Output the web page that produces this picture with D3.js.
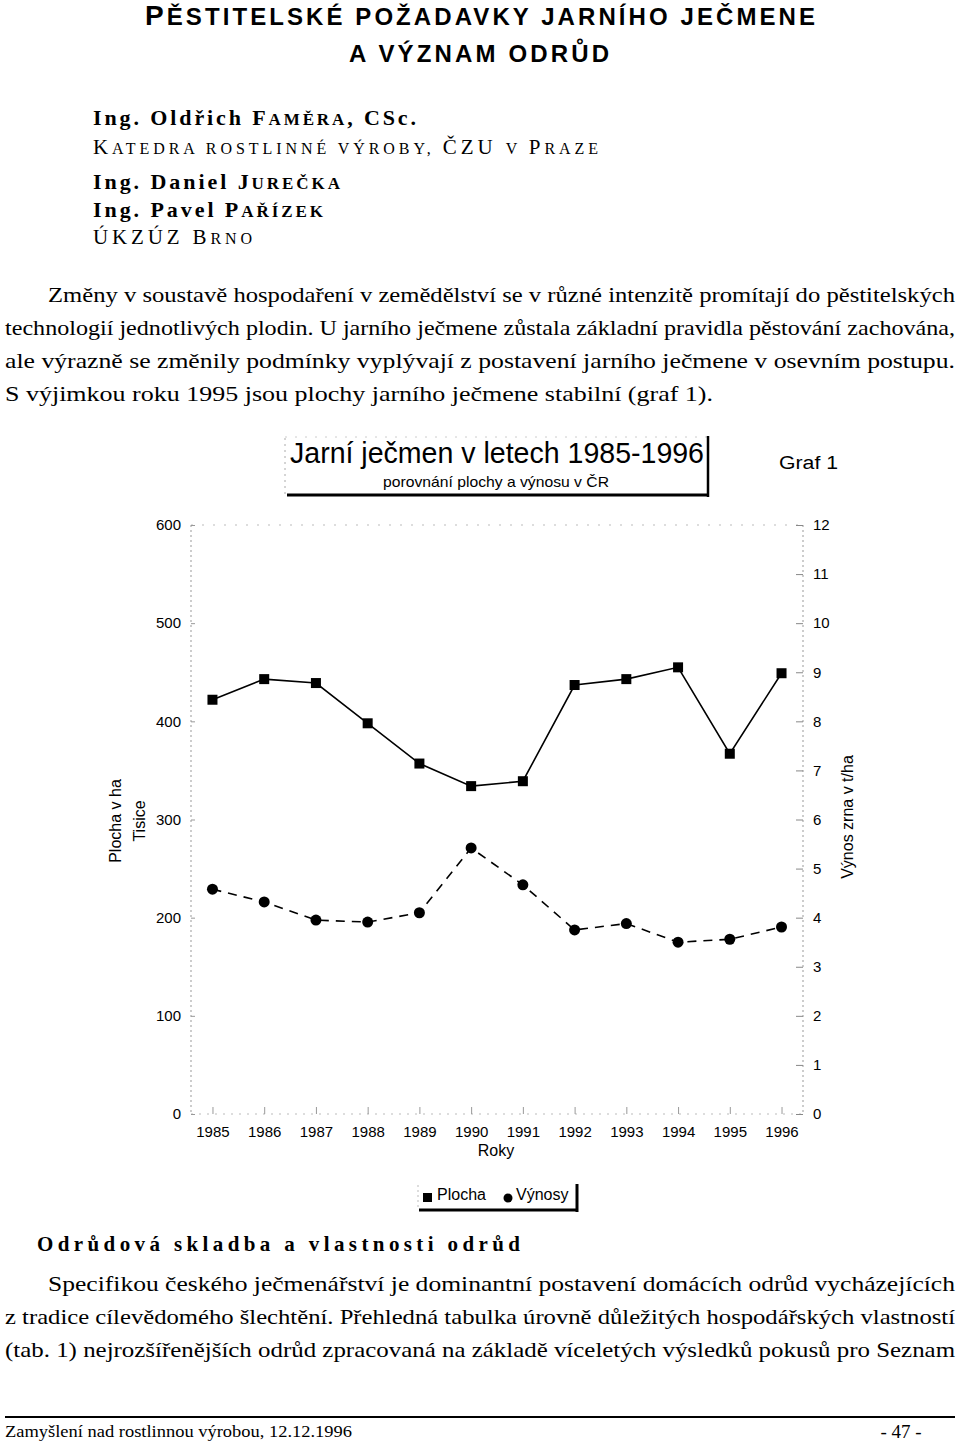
<!DOCTYPE html>
<html><head><meta charset="utf-8">
<script src="https://d3js.org/d3.v7.min.js"></script>
<style>body{margin:0;background:#fff}svg{display:block}</style>
</head><body>
<script>
const years = [1985,1986,1987,1988,1989,1990,1991,1992,1993,1994,1995,1996];
const plocha = [422,443,439,398,357,334,339,437,443,455,367,449];
const vynosy = [4.58,4.32,3.95,3.91,4.10,5.42,4.67,3.75,3.88,3.50,3.56,3.81];
const leftTicks = [0,100,200,300,400,500,600];
const rightTicks = [0,1,2,3,4,5,6,7,8,9,10,11,12];

const SERIF = "'Liberation Serif','Times New Roman',serif";
const SANS = "'Liberation Sans',Arial,sans-serif";

const svg = d3.select("body").append("svg").attr("width",960).attr("height",1442);

function seg(x,y,parts,opts){
  const t = svg.append("text").attr("x",x).attr("y",y)
    .attr("font-family",opts.family).attr("font-weight",opts.weight||"normal").attr("fill","#000");
  if(opts.len){t.attr("textLength",opts.len).attr("lengthAdjust",opts.adj||"spacingAndGlyphs");}
  if(opts.anchor) t.attr("text-anchor",opts.anchor);
  parts.forEach(p=>t.append("tspan").attr("font-size",p[1]).text(p[0]));
  return t;
}

// Header
seg(145,25,[["P",28],["ĚSTITELSKÉ POŽADAVKY JARNÍHO JEČMENE",24]],{family:SANS,weight:"bold",len:670,adj:"spacing"});
seg(349,62,[["A VÝZNAM ODRŮD",24]],{family:SANS,weight:"bold",len:260,adj:"spacing"});

// Authors
seg(93,125,[["Ing. Oldřich F",22],["AMĚRA",17],[", CSc.",22]],{family:SERIF,weight:"bold",len:323,adj:"spacing"});
seg(93,154,[["K",21],["ATEDRA ROSTLINNÉ VÝROBY, ",16],["ČZU ",21],["V ",16],["P",21],["RAZE",16]],{family:SERIF,len:505,adj:"spacing"});
seg(93,189,[["Ing. Daniel J",22],["UREČKA",17]],{family:SERIF,weight:"bold",len:247,adj:"spacing"});
seg(93,217,[["Ing. Pavel P",22],["AŘÍZEK",17]],{family:SERIF,weight:"bold",len:230,adj:"spacing"});
seg(93,244,[["ÚKZÚZ B",21],["RNO",16]],{family:SERIF,len:159,adj:"spacing"});

// Paragraph 1
const p1 = [
 ["Změny v soustavě hospodaření v zemědělství se v různé intenzitě promítají do pěstitelských",48,955,302],
 ["technologií jednotlivých plodin. U jarního ječmene zůstala základní pravidla pěstování zachována,",5,955,335],
 ["ale výrazně se změnily podmínky vyplývají z postavení jarního ječmene v osevním postupu.",5,955,368],
 ["S výjimkou roku 1995 jsou plochy jarního ječmene stabilní (graf 1).",5,713,401]
];
p1.forEach(l=>seg(l[1],l[3],[[l[0],21]],{family:SERIF,len:l[2]-l[1]}));

// Chart title box
svg.append("line").attr("x1",285).attr("x2",285).attr("y1",438).attr("y2",495).attr("stroke","#aaa").attr("stroke-dasharray","2,4");
svg.append("line").attr("x1",285).attr("x2",708).attr("y1",437).attr("y2",437).attr("stroke","#ccc").attr("stroke-dasharray","2,8");
svg.append("line").attr("x1",708).attr("x2",708).attr("y1",436).attr("y2",497).attr("stroke","#000").attr("stroke-width",2.5);
svg.append("line").attr("x1",287).attr("x2",709).attr("y1",495).attr("y2",495).attr("stroke","#000").attr("stroke-width",3);
seg(290,463,[["Jarní ječmen v letech 1985-1996",29]],{family:SANS,len:414});
seg(383,487,[["porovnání plochy a výnosu v ČR",15]],{family:SANS,len:226});
seg(779,469,[["Graf 1",18]],{family:SANS,len:59});

// Chart
const L=191, R=803, T=525, B=1114;
const x = d3.scalePoint().domain(years).range([L,R]).padding(0.415);
const yL = d3.scaleLinear().domain([0,600]).range([B,T]);
const yR = d3.scaleLinear().domain([0,12]).range([B,T]);

const frame = svg.append("g").attr("stroke","#999").attr("stroke-width",1).attr("stroke-dasharray","2,3").attr("fill","none");
frame.append("line").attr("x1",L).attr("x2",L).attr("y1",T).attr("y2",B);
frame.append("line").attr("x1",R).attr("x2",R).attr("y1",T).attr("y2",B);
frame.append("line").attr("x1",L).attr("x2",R).attr("y1",T).attr("y2",T).attr("stroke","#bbb").attr("stroke-dasharray","2,9");
frame.append("line").attr("x1",L).attr("x2",R).attr("y1",B).attr("y2",B).attr("stroke","#bbb").attr("stroke-dasharray","2,6");

const axL = d3.axisLeft(yL).tickValues(leftTicks).tickSize(-4).tickPadding(10);
const gL = svg.append("g").attr("transform",`translate(${L},0)`).call(axL);
gL.select(".domain").remove();
gL.selectAll("line").attr("stroke","#999");
gL.selectAll("text").attr("font-family",SANS).attr("font-size",15).attr("fill","#000");

const axR = d3.axisRight(yR).tickValues(rightTicks).tickSize(-7).tickPadding(10);
const gR = svg.append("g").attr("transform",`translate(${R},0)`).call(axR);
gR.select(".domain").remove();
gR.selectAll("line").attr("stroke","#888");
gR.selectAll("text").attr("font-family",SANS).attr("font-size",15).attr("fill","#000");

const axB = d3.axisBottom(x).tickSize(-7).tickPadding(12);
const gB = svg.append("g").attr("transform",`translate(0,${B})`).call(axB);
gB.select(".domain").remove();
gB.selectAll("line").attr("stroke","#999");
gB.selectAll("text").attr("font-family",SANS).attr("font-size",15).attr("fill","#000");

seg(496,1156,[["Roky",16]],{family:SANS,anchor:"middle"});
svg.append("text").attr("transform","translate(121,821) rotate(-90)").attr("text-anchor","middle")
  .attr("font-family",SANS).attr("font-size",16).text("Plocha v ha");
svg.append("text").attr("transform","translate(145,821) rotate(-90)").attr("text-anchor","middle")
  .attr("font-family",SANS).attr("font-size",16).text("Tisice");
svg.append("text").attr("transform","translate(853,817) rotate(-90)").attr("text-anchor","middle")
  .attr("font-family",SANS).attr("font-size",16).text("Výnos zrna v t/ha");

const lineP = d3.line().x((d,i)=>x(years[i])).y(d=>yL(d));
const lineV = d3.line().x((d,i)=>x(years[i])).y(d=>yR(d));
svg.append("path").datum(plocha).attr("d",lineP).attr("fill","none").attr("stroke","#000").attr("stroke-width",1.6);
svg.append("path").datum(vynosy).attr("d",lineV).attr("fill","none").attr("stroke","#000").attr("stroke-width",1.6).attr("stroke-dasharray","9,7");
svg.append("g").selectAll("rect").data(plocha).join("rect")
  .attr("x",(d,i)=>x(years[i])-5).attr("y",d=>yL(d)-5).attr("width",10).attr("height",10).attr("fill","#000");
svg.append("g").selectAll("circle").data(vynosy).join("circle")
  .attr("cx",(d,i)=>x(years[i])).attr("cy",d=>yR(d)).attr("r",5.5).attr("fill","#000");

// Legend
svg.append("line").attr("x1",418).attr("x2",418).attr("y1",1185).attr("y2",1209).attr("stroke","#bbb").attr("stroke-dasharray","2,3");
svg.append("line").attr("x1",577).attr("x2",577).attr("y1",1184).attr("y2",1212).attr("stroke","#000").attr("stroke-width",3);
svg.append("line").attr("x1",419).attr("x2",578).attr("y1",1210).attr("y2",1210).attr("stroke","#000").attr("stroke-width",3);
svg.append("rect").attr("x",423).attr("y",1193).attr("width",9).attr("height",9).attr("fill","#000");
seg(437,1200,[["Plocha",16]],{family:SANS});
svg.append("circle").attr("cx",508).attr("cy",1198).attr("r",4.5).attr("fill","#000");
seg(516,1200,[["Výnosy",16]],{family:SANS});

// Heading
seg(37,1251,[["Odrůdová skladba a vlastnosti odrůd",21]],{family:SERIF,weight:"bold",len:483,adj:"spacing"});

// Paragraph 2
const p2 = [
 ["Specifikou českého ječmenářství je dominantní postavení domácích odrůd vycházejících",48,955,1291],
 ["z tradice cílevědomého šlechtění.  Přehledná tabulka úrovně důležitých hospodářských vlastností",5,955,1324],
 ["(tab. 1) nejrozšířenějších odrůd zpracovaná na základě víceletých výsledků pokusů pro Seznam",5,955,1357]
];
p2.forEach(l=>seg(l[1],l[3],[[l[0],21]],{family:SERIF,len:l[2]-l[1]}));

// Footer
svg.append("line").attr("x1",5).attr("x2",955).attr("y1",1417).attr("y2",1417).attr("stroke","#000").attr("stroke-width",2);
seg(5,1437,[["Zamyšlení nad rostlinnou výrobou, 12.12.1996",16]],{family:SERIF,len:347});
seg(901,1438,[["- 47 -",19]],{family:SERIF,anchor:"middle"});
</script>
</body></html>
